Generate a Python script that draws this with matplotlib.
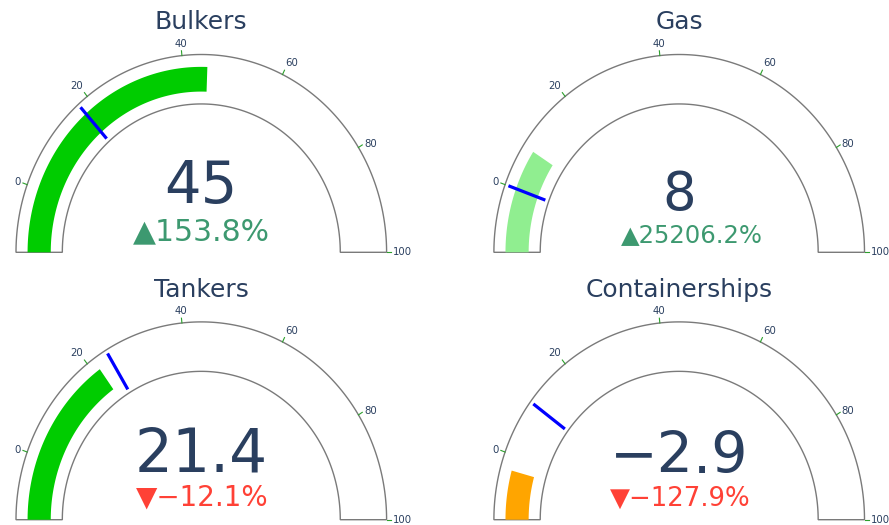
import numpy as np
import matplotlib
matplotlib.use("Agg")
import matplotlib.pyplot as plt

# ---- data ----
titles = ["Bulkers", "Gas", "Tankers", "Containerships"]
values = [45, 8, 21.4, -2.9]
delta_pct = [153.8, 25206.2, -12.1, -127.9]
bar_colors = ["#00cc00", "#90ee90", "#00cc00", "#ffa500"]
gauge_min, gauge_max = -12.5, 100
tick_values = [0, 20, 40, 60, 80, 100]

# reference (threshold) values implied by the relative deltas
references = [v / (1 + p / 100.0) for v, p in zip(values, delta_pct)]

# ---- layout (pixels) ----
centers = [(201.3, 252.3), (679.2, 252.3), (201.3, 519.7), (679.2, 519.7)]
RX, RY = 185.3, 197.8
title_base = [29.3, 29.3, 296.8, 296.8]
num_base = [203.3, 210.0, 471.7, 473.3]
num_size = [41.5, 38, 43, 41]
delta_base = [240.0, 241.7, 506.0, 506.0]
delta_size = [21.5, 17.5, 20, 18.7]
delta_dx = [0.4, 12.5, 0.7, 0.8]

TEXT = "#2a3f5f"
INC, DEC = "#3D9970", "#FF4136"

fig = plt.figure(figsize=(8.89, 5.25), dpi=100)
ax = fig.add_axes([0, 0, 1, 1])
ax.set_xlim(0, 889)
ax.set_ylim(525, 0)
ax.axis("off")


def ang(v):
    return np.pi * (gauge_max - v) / (gauge_max - gauge_min)


def pt(cx, cy, r, th):
    return cx + RX * r * np.cos(th), cy - RY * r * np.sin(th)


def band(cx, cy, v0, v1, r0, r1, **kw):
    th = np.linspace(ang(v0), ang(v1), 200)
    xo, yo = pt(cx, cy, r1, th)
    xi, yi = pt(cx, cy, r0, th[::-1])
    ax.fill(np.r_[xo, xi], np.r_[yo, yi], **kw)


for i in range(4):
    cx, cy = centers[i]
    # gauge background
    band(cx, cy, gauge_min, gauge_max, 0.75, 1.0, facecolor="white",
         edgecolor="#7a7a7a", linewidth=1.0, zorder=1)
    # value bar
    band(cx, cy, gauge_min, values[i], 0.8125, 0.9375,
         facecolor=bar_colors[i], edgecolor="none", zorder=2)
    # threshold
    th = ang(references[i])
    x0, y0 = pt(cx, cy, 0.769, th)
    x1, y1 = pt(cx, cy, 0.981, th)
    ax.plot([x0, x1], [y0, y1], color="#0000ff", linewidth=2.3,
            solid_capstyle="butt", zorder=3)
    # ticks
    for tv in tick_values:
        t = ang(tv)
        xa, ya = pt(cx, cy, 1.0, t)
        xb, yb = pt(cx, cy, 1.0 + 4.5 / RX, t)
        ax.plot([xa, xb], [ya, yb], color="#2ca02c", linewidth=0.8, zorder=3)
        xl, yl = pt(cx, cy, 1.0 + 6.5 / RX, t)
        c, s = np.cos(t), np.sin(t)
        ha = "right" if c < -0.3 else ("left" if c > 0.3 else "center")
        va = "bottom" if s > 0.7 else "center"
        ax.text(xl, yl, str(tv), ha=ha, va=va, fontsize=7.3, color=TEXT,
                zorder=4)
    # title
    ax.text(cx, title_base[i], titles[i], ha="center", va="baseline",
            fontsize=18, color=TEXT)
    # number
    ax.text(cx, num_base[i], f"{values[i]:g}".replace("-", "\u2212"),
            ha="center", va="baseline", fontsize=num_size[i], color=TEXT)
    # delta
    p = delta_pct[i]
    sym = "\u25b2" if p >= 0 else "\u25bc"
    col = INC if p >= 0 else DEC
    ax.text(cx + delta_dx[i], delta_base[i],
            sym + f"{p:.1f}%".replace("-", "\u2212"),
            ha="center", va="baseline", fontsize=delta_size[i], color=col)

fig.savefig("out.png", dpi=100)
